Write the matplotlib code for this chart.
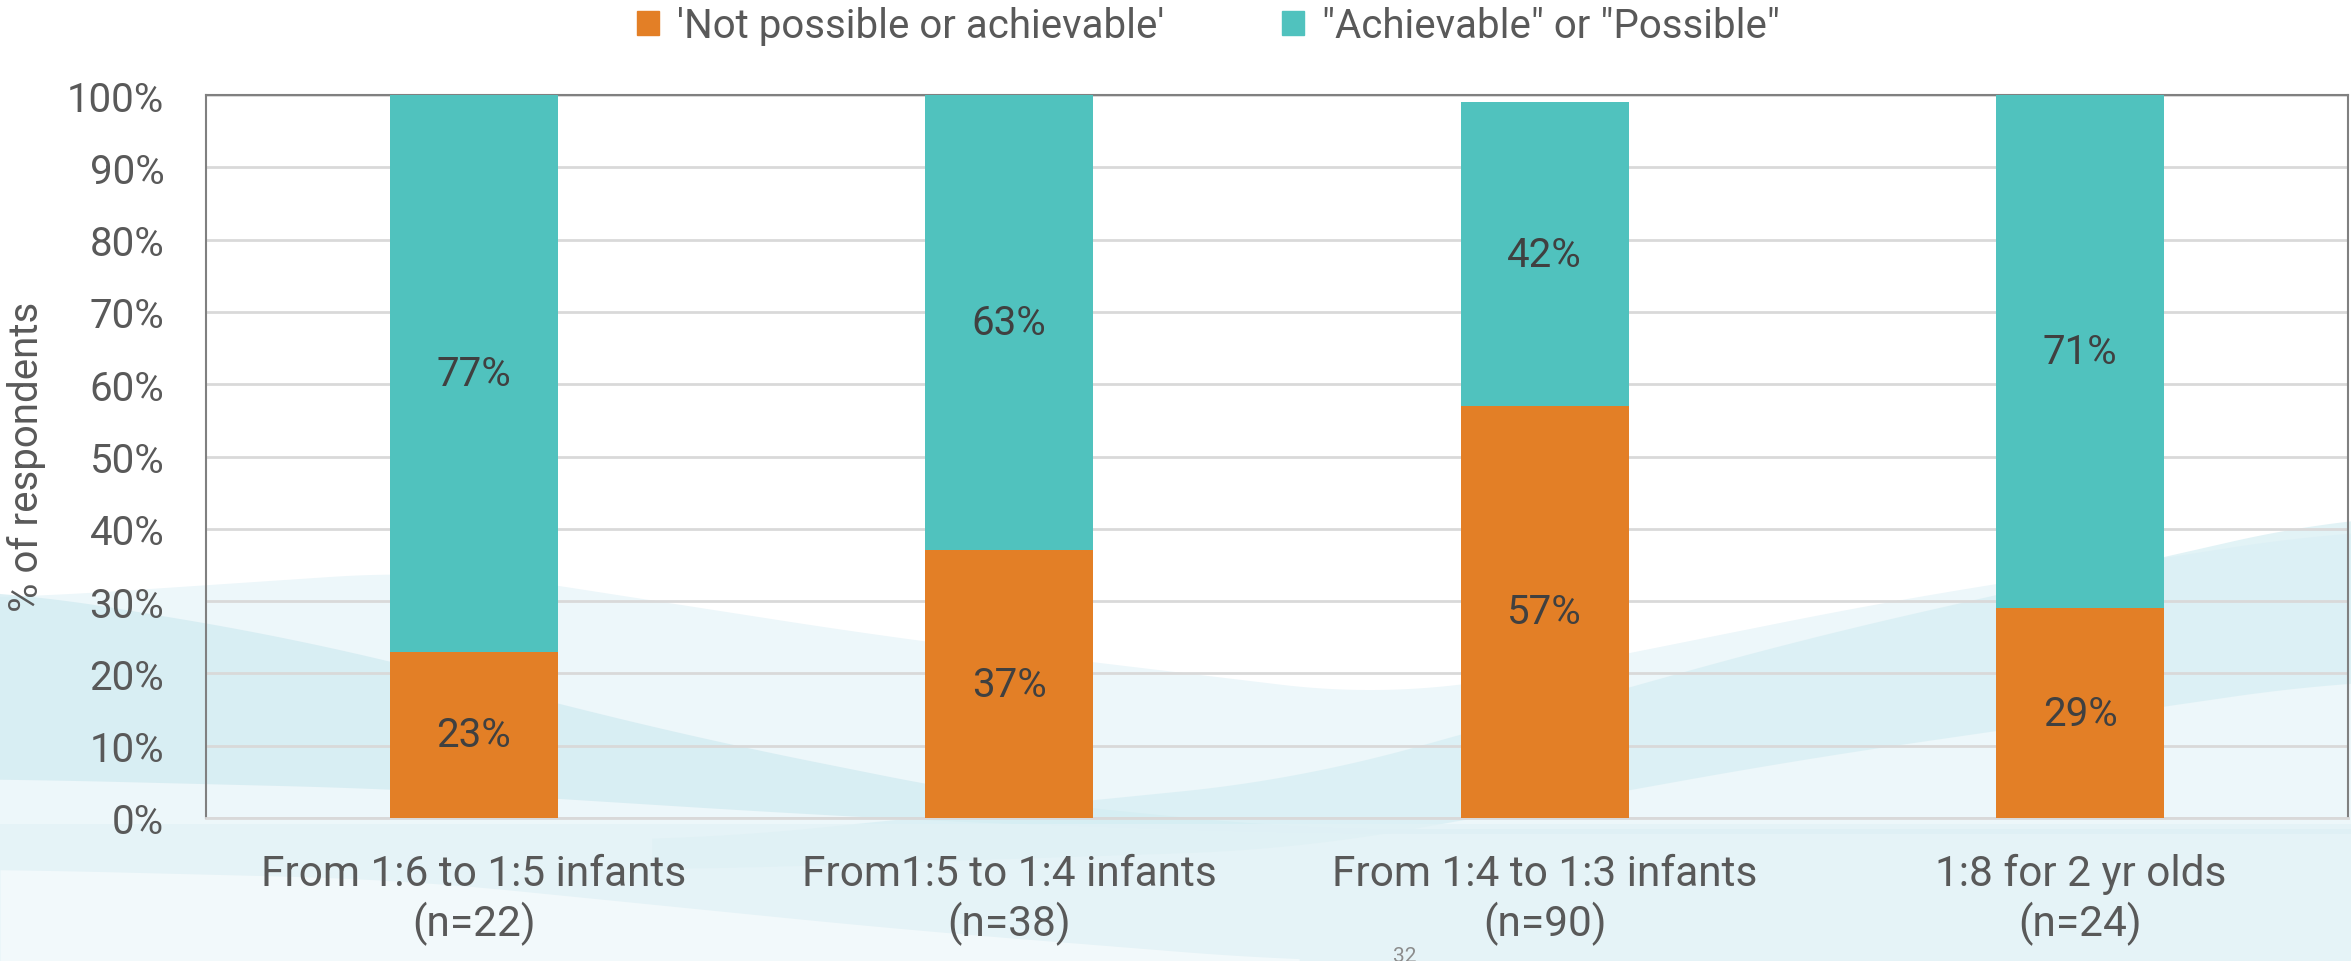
import numpy as np
import matplotlib
matplotlib.use("Agg")
import matplotlib.pyplot as plt
from matplotlib.patches import Patch

plt.rcParams['font.family'] = ['Roboto', 'DejaVu Sans']

# data
categories = ['From 1:6 to 1:5 infants\n(n=22)', 'From1:5 to 1:4 infants\n(n=38)',
              'From 1:4 to 1:3 infants\n(n=90)', '1:8 for 2 yr olds\n(n=24)']
not_possible = [23, 37, 57, 29]
achievable = [77, 63, 42, 71]
series_labels = ["'Not possible or achievable'", '"Achievable" or "Possible"']

orange = '#E37F26'
teal = '#50C2BE'
text_col = '#595959'

W, H = 2351, 962
fig = plt.figure(figsize=(W / 100, H / 100), dpi=100)
fig.patch.set_facecolor('white')

# soft wave background behind the chart (pixel coordinates)
bg = fig.add_axes([0, 0, 1, 1], zorder=0)
bg.set_xlim(0, W)
bg.set_ylim(H, 0)
bg.axis('off')
xx = np.linspace(0, W, 600)


def curve(px, py):
    y = np.interp(xx, px, py)
    k = np.ones(61) / 61
    ypad = np.concatenate([np.full(30, y[0]), y, np.full(30, y[-1])])
    return np.convolve(ypad, k, mode='valid')


# pale wash across the lower half
bg.fill_between(xx, curve([0, 450, 900, 1400, 1900, 2351], [600, 570, 640, 700, 600, 530]), H,
                color='#EDF7FA', lw=0)
# band sweeping down from the left
bg.fill_between(xx, curve([0, 300, 700, 1000, 1300], [590, 640, 740, 800, 830]),
                curve([0, 400, 800, 1000, 1300], [780, 790, 815, 825, 835]),
                color='#D2EBF1', alpha=0.75, lw=0)
# band rising to the right
bg.fill_between(xx, curve([700, 1300, 1800, 2351], [840, 780, 640, 515]),
                curve([700, 1300, 1800, 2351], [870, 850, 760, 680]),
                where=xx > 650, color='#D6EEF3', alpha=0.7, lw=0)
# area under the axis
bg.fill_between(xx, 825, H, color='#E3F2F6', alpha=0.7, lw=0)
# whiter sweep at the bottom left
bg.fill_between(xx, curve([0, 400, 900, 1300], [870, 880, 930, 962]), H,
                where=xx < 1300, color='white', alpha=0.5, lw=0)

ax = fig.add_axes([206 / W, 1 - 819 / H, (2348 - 206) / W, (819 - 96) / H], zorder=1)
ax.set_facecolor('none')

x = np.arange(len(categories))
bw = 0.314
ax.bar(x, not_possible, bw, color=orange, zorder=3)
ax.bar(x, achievable, bw, bottom=not_possible, color=teal, zorder=3)

for i in range(len(categories)):
    ax.text(x[i], not_possible[i] / 2, f'{not_possible[i]}%', ha='center', va='center',
            fontsize=29, color='#404040', zorder=4)
    ax.text(x[i], not_possible[i] + achievable[i] / 2, f'{achievable[i]}%', ha='center',
            va='center', fontsize=29, color='#404040', zorder=4)

ax.set_xlim(-0.5, len(categories) - 0.5)
ax.set_ylim(0, 100)
ax.set_yticks(np.arange(0, 101, 10))
ax.set_yticklabels([f'{v}%' for v in range(0, 101, 10)])
ax.set_xticks(x)
ax.set_xticklabels(categories, linespacing=1.2)
ax.yaxis.grid(True, color='#D9D9D9', lw=2, zorder=0)
ax.set_axisbelow(True)
ax.tick_params(axis='y', length=0, pad=30, labelsize=29, labelcolor=text_col)
ax.tick_params(axis='x', length=0, pad=25, labelsize=30.5, labelcolor=text_col)
for s in ['left', 'top', 'right']:
    ax.spines[s].set_color('#808080')
    ax.spines[s].set_linewidth(1.5)
ax.spines['bottom'].set_color('#D9D9D9')
ax.spines['bottom'].set_linewidth(2)

fig.text(27 / W, 1 - 457 / H, '% of respondents', rotation=90, ha='center', va='center',
         fontsize=29, color=text_col)

handles = [Patch(color=orange), Patch(color=teal)]
fig.legend(handles, series_labels, loc='center', bbox_to_anchor=(0.514, 1 - 27 / H), ncol=2,
           frameon=False, fontsize=29, labelcolor=text_col, handlelength=0.55,
           handleheight=0.55, handletextpad=0.45, columnspacing=2.9)

# slide number
fig.text(1405 / W, 1 - 957 / H, '32', ha='center', va='center', fontsize=15, color='#8C8C8C')

fig.savefig('out.png', dpi=100)
